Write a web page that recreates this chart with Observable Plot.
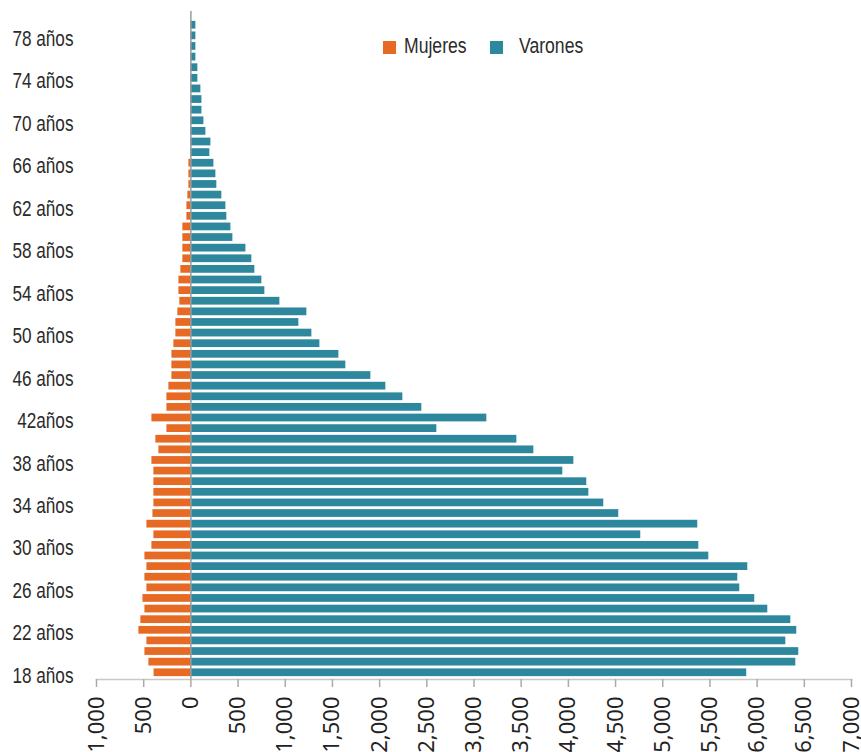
<!DOCTYPE html>
<html><head><meta charset="utf-8">
<script src="https://cdn.jsdelivr.net/npm/d3@7"></script>
<script src="https://cdn.jsdelivr.net/npm/@observablehq/plot@0.6"></script>
<style>
body{margin:0;background:#fff;}
#wrap{position:relative;width:861px;height:752px;overflow:hidden;}
.lg-sw{position:absolute;width:13px;height:13px;top:41px;}
.lg-tx{position:absolute;top:35px;font-family:"Liberation Sans",Arial,sans-serif;font-size:22px;line-height:22px;color:#2b2b2b;transform:scaleX(0.8);transform-origin:left center;white-space:nowrap;}
</style></head><body>
<div id="wrap">
<div class="lg-sw" style="left:383px;background:#e66a24"></div>
<div class="lg-tx" style="left:404px">Mujeres</div>
<div class="lg-sw" style="left:490px;background:#2d879d"></div>
<div class="lg-tx" style="left:519px">Varones</div>
</div>
<script>
const ages = [18,19,20,21,22,23,24,25,26,27,28,29,30,31,32,33,34,35,36,37,38,39,40,41,42,43,44,45,46,47,48,49,50,51,52,53,54,55,56,57,58,59,60,61,62,63,64,65,66,67,68,69,70,71,72,73,74,75,76,77,78,79];
const mujeres = [390,445,487,466,551,530,487,508,466,487,466,487,413,392,466,402,392,392,392,392,413,339,371,254,413,254,254,233,201,201,201,180,159,159,138,117,127,127,106,85,85,85,85,42,42,32,21,21,21,0,0,0,0,0,0,0,0,0,0,0,0,0];
const varones = [5890,6410,6441,6304,6420,6357,6113,5975,5816,5795,5901,5488,5382,4767,5371,4534,4375,4217,4195,3941,4058,3634,3454,2606,3136,2447,2246,2066,1907,1642,1568,1367,1282,1144,1229,943,784,752,678,646,583,445,424,381,371,328,275,265,244,201,212,159,138,117,117,106,74,74,53,53,53,53];
const yTicks = [18,22,26,30,34,38,42,46,50,54,58,62,66,70,74,78];
const yTickLabels = ["18 años","22 años","26 años","30 años","34 años","38 años","42años","46 años","50 años","54 años","58 años","62 años","66 años","70 años","74 años","78 años"];
const xTicks = [-1000,-500,0,500,1000,1500,2000,2500,3000,3500,4000,4500,5000,5500,6000,6500,7000];
const colorMujeres = "#e66a24", colorVarones = "#2d879d";

const rows = ages.map((a, i) => ({age: a, mujeres: mujeres[i], varones: varones[i]}));
const fmt = d3.format(",");

const chart = Plot.plot({
  width: 861, height: 752,
  marginLeft: 96, marginRight: 10, marginTop: 18, marginBottom: 73,
  style: {fontFamily: "'Liberation Sans',Arial,sans-serif", fontSize: "22px", color: "#2b2b2b", background: "transparent"},
  x: {domain: [-1000, 7000]},
  y: {type: "band", domain: ages.slice().reverse(), padding: 0.27},
  marks: [
    Plot.barX(rows, {y: "age", x: d => -d.mujeres, fill: colorMujeres}),
    Plot.barX(rows, {y: "age", x: "varones", fill: colorVarones}),
    Plot.ruleX([0], {stroke: "#9a9a9a", strokeWidth: 1.5, insetTop: -7}),
    Plot.frame({anchor: "bottom", stroke: "#c8c8c8", strokeWidth: 1.5}),
    Plot.axisX({ticks: xTicks, tickFormat: d => fmt(Math.abs(d)), tickRotate: -90, tickSize: 8, tickPadding: 9, stroke: "#aaa", strokeWidth: 1.5, fill: "#222", fontFamily: "'Noto Sans',sans-serif", fontSize: 22, label: null}),
    Plot.axisY({ticks: yTicks, tickFormat: d => yTickLabels[yTicks.indexOf(d)], tickSize: 0, tickPadding: 23, dy: 3, label: null})
  ]
});
document.getElementById("wrap").prepend(chart);
// condense the y tick labels horizontally (the reference uses a condensed face)
d3.select(chart).selectAll('g[aria-label="y-axis tick label"] text').each(function() {
  const len = this.getComputedTextLength();
  this.setAttribute("textLength", (len * 0.78).toFixed(1));
  this.setAttribute("lengthAdjust", "spacingAndGlyphs");
});
</script>
</body></html>
